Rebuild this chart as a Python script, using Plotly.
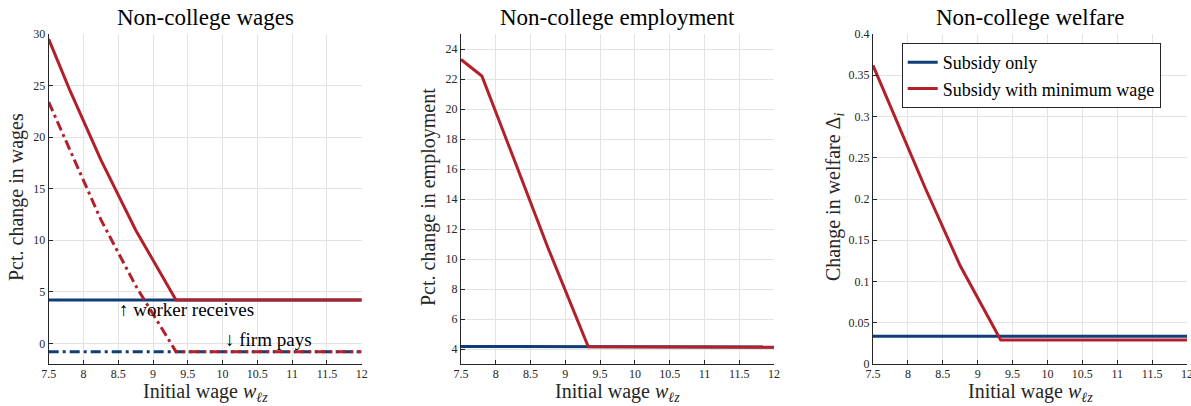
import plotly.graph_objects as go

# ---------------- data ----------------
wage = [7.5, 7.8, 8.25, 8.75, 9.33, 12.0]

# Left panel: pct change in wages
wage_sub_worker = [4.2, 4.2, 4.2, 4.2, 4.2, 4.2]
wage_sub_firm = [-0.8, -0.8, -0.8, -0.8, -0.8, -0.8]
wage_mw_worker = [29.5, 24.6, 17.8, 11.0, 4.2, 4.2]
wage_mw_firm = [23.4, 18.8, 12.0, 5.6, -0.8, -0.8]

# Middle panel: pct change in employment
emp_sub = [4.17, 4.17, 4.16, 4.16, 4.15, 4.13]
emp_mw = [23.3, 22.2, 16.8, 10.75, 4.15, 4.11]

# Right panel: change in welfare
welf_sub = [0.0335, 0.0335, 0.0335, 0.0335, 0.0335, 0.0335]
welf_mw = [0.362, 0.302, 0.213, 0.119, 0.029, 0.029]

x_ticks = [7.5, 8, 8.5, 9, 9.5, 10, 10.5, 11, 11.5, 12]
x_ticklabels = ["7.5", "8", "8.5", "9", "9.5", "10", "10.5", "11", "11.5", "12"]
y1_ticks = [0, 5, 10, 15, 20, 25, 30]
y2_ticks = [4, 6, 8, 10, 12, 14, 16, 18, 20, 22, 24]
y3_ticks = [0, 0.05, 0.1, 0.15, 0.2, 0.25, 0.3, 0.35, 0.4]
y3_ticklabels = ["0", "0.05", "0.1", "0.15", "0.2", "0.25", "0.3", "0.35", "0.4"]

titles = ["Non-college wages", "Non-college employment", "Non-college welfare"]
ylabels = ["Pct. change in wages", "Pct. change in employment",
           "Change in welfare Δ<sub><i>i</i></sub>"]
xlabel = "Initial wage <i>w</i><sub><i>ℓz</i></sub>"
legend_names = ["Subsidy only", "Subsidy with minimum wage"]

BLUE = "#0f3d78"
RED = "#b2202a"
FONT = "Liberation Serif"
TXT = "#262626"
W, H = 1191, 406

# ---------------- layout geometry (pixels) ----------------
px_x = [(48.7, 361.7), (461.0, 774.0), (873.0, 1187.0)]
px_y = (34.0, 364.0)
ylabel_cx = [16, 428, 834]

fig = go.Figure()

LW = 3
DD = "10px,4px,3px,4px"
# left
fig.add_trace(go.Scatter(x=wage, y=wage_sub_worker, mode="lines", line=dict(color=BLUE, width=LW),
                         xaxis="x", yaxis="y", showlegend=False))
fig.add_trace(go.Scatter(x=wage, y=wage_sub_firm, mode="lines", line=dict(color=BLUE, width=LW, dash=DD),
                         xaxis="x", yaxis="y", showlegend=False))
fig.add_trace(go.Scatter(x=wage, y=wage_mw_worker, mode="lines", line=dict(color=RED, width=LW),
                         xaxis="x", yaxis="y", showlegend=False))
fig.add_trace(go.Scatter(x=wage, y=wage_mw_firm, mode="lines", line=dict(color=RED, width=LW, dash=DD),
                         xaxis="x", yaxis="y", showlegend=False))
# middle
fig.add_trace(go.Scatter(x=wage, y=emp_sub, mode="lines", line=dict(color=BLUE, width=LW),
                         xaxis="x2", yaxis="y2", showlegend=False))
fig.add_trace(go.Scatter(x=wage, y=emp_mw, mode="lines", line=dict(color=RED, width=LW),
                         xaxis="x2", yaxis="y2", showlegend=False))
# right
fig.add_trace(go.Scatter(x=wage, y=welf_sub, mode="lines", line=dict(color=BLUE, width=LW),
                         xaxis="x3", yaxis="y3", name=legend_names[0]))
fig.add_trace(go.Scatter(x=wage, y=welf_mw, mode="lines", line=dict(color=RED, width=LW),
                         xaxis="x3", yaxis="y3", name=legend_names[1]))

ydom = [1 - px_y[1] / H, 1 - px_y[0] / H]


def xaxis_cfg(i, anchor):
    return dict(domain=[px_x[i][0] / W, px_x[i][1] / W], anchor=anchor, range=[7.5, 12],
                tickvals=x_ticks, ticktext=x_ticklabels, ticks="inside", ticklen=4,
                tickcolor=TXT, showline=True, linecolor=TXT, linewidth=1,
                showgrid=True, gridcolor="#e3e3e3", gridwidth=1, zeroline=False,
                automargin=False, ticklabelstandoff=-1, ticklabeloverflow="allow",
                tickfont=dict(family=FONT, size=12, color=TXT))


def yaxis_cfg(anchor, rng, tv, tt=None):
    d = dict(domain=ydom, anchor=anchor, range=rng, tickvals=tv, ticks="inside", ticklen=4,
             tickcolor=TXT, showline=True, linecolor=TXT, linewidth=1,
             showgrid=True, gridcolor="#e3e3e3", gridwidth=1, zeroline=False,
             automargin=False,
             tickfont=dict(family=FONT, size=12, color=TXT))
    if tt is not None:
        d["ticktext"] = tt
    return d


fig.update_layout(
    width=W, height=H,
    margin=dict(l=0, r=0, t=0, b=0, autoexpand=False),
    paper_bgcolor="white", plot_bgcolor="white",
    font=dict(family=FONT, color="black"),
    xaxis=xaxis_cfg(0, "y"),
    xaxis2=xaxis_cfg(1, "y2"),
    xaxis3=xaxis_cfg(2, "y3"),
    yaxis=yaxis_cfg("x", [-2, 30], y1_ticks),
    yaxis2=yaxis_cfg("x2", [3, 25], y2_ticks),
    yaxis3=yaxis_cfg("x3", [0, 0.4], y3_ticks, y3_ticklabels),
    legend=dict(x=901.7 / W, y=1 - 43 / H, xanchor="left", yanchor="top",
                bgcolor="white", bordercolor=TXT, borderwidth=1,
                font=dict(family=FONT, size=18, color="black"),
                tracegroupgap=0, itemwidth=30),
)

ann = []
for i in range(3):
    cx = (px_x[i][0] + px_x[i][1]) / 2 / W
    ann.append(dict(text=titles[i], x=cx, y=1 - 17 / H, xref="paper", yref="paper",
                    xanchor="center", yanchor="middle", showarrow=False,
                    font=dict(family=FONT, size=23, color="black")))
    ann.append(dict(text=xlabel, x=cx, y=1 - 392 / H, xref="paper", yref="paper",
                    xanchor="center", yanchor="middle", showarrow=False,
                    font=dict(family=FONT, size=20, color=TXT)))
    ann.append(dict(text=ylabels[i], x=ylabel_cx[i] / W, y=1 - 197 / H, xref="paper", yref="paper",
                    xanchor="center", yanchor="middle", showarrow=False, textangle=-90,
                    font=dict(family=FONT, size=20, color=TXT)))

ann.append(dict(text="↑ worker receives", x=8.48, y=3.3, xref="x", yref="y",
                xanchor="left", yanchor="middle", showarrow=False,
                font=dict(family=FONT, size=19, color="black")))
ann.append(dict(text="↓ firm pays", x=10.0, y=0.4, xref="x", yref="y",
                xanchor="left", yanchor="middle", showarrow=False,
                font=dict(family=FONT, size=19, color="black")))

fig.update_layout(annotations=ann)
fig.write_html("out.html", config={"displayModeBar": False},
               post_script="document.body.style.margin='0';document.body.style.overflow='hidden';")
